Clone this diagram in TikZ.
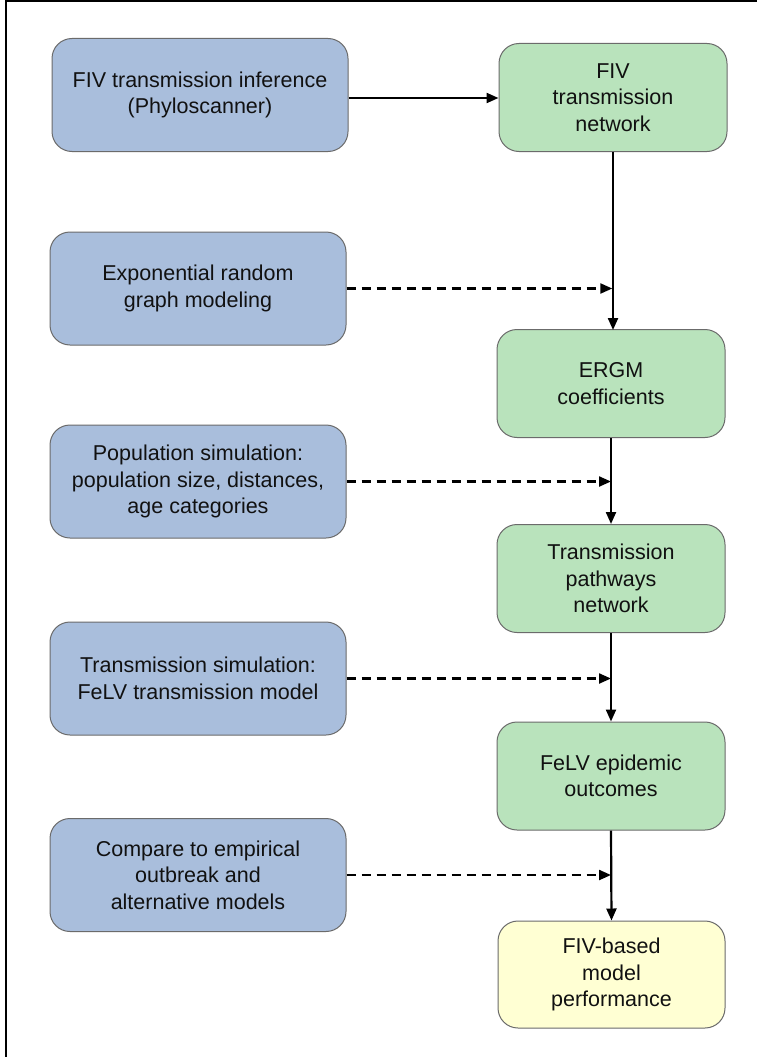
\documentclass[tikz,border=0pt]{standalone}
\usepackage{fontspec}
\setmainfont{Liberation Sans}
\usetikzlibrary{arrows.meta}
\definecolor{bluefill}{HTML}{A9BEDC}
\definecolor{greenfill}{HTML}{B9E3BC}
\definecolor{yellowfill}{HTML}{FFFFD3}
\definecolor{boxedge}{HTML}{6B6B6B}
\definecolor{txt}{HTML}{111111}
\tikzset{
  box/.style={draw=boxedge, line width=1pt, rounded corners=20pt, align=center,
    text=txt, font=\fontsize{21.5}{26.5}\selectfont, inner sep=0pt},
  leftbox/.style={box, fill=bluefill, minimum width=296pt, minimum height=113pt},
  rightbox/.style={box, fill=greenfill, minimum width=228pt, minimum height=108pt},
  yellowbox/.style={box, fill=yellowfill, minimum width=227pt, minimum height=107pt},
  solidarrow/.style={line width=2.2pt, -{Triangle[length=12pt,width=10pt]}},
  dasharrow/.style={line width=2.2pt, dash pattern=on 9pt off 6pt, -{Triangle[length=12pt,width=10pt]}},
}
\begin{document}
\begin{tikzpicture}[x=1pt,y=-1pt]
\useasboundingbox (0,0) rectangle (757,1057);
\fill[white] (0,0) rectangle (757,1057);
\draw[line width=2.5pt] (6,1057) -- (6,1.2) -- (757,1.2);

\node[leftbox] (l1) at (200,95) {FIV transmission inference\\(Phyloscanner)};
\node[leftbox] (l2) at (198,288.5) {Exponential random\\graph modeling};
\node[leftbox] (l3) at (198,481.5) {Population simulation:\\population size, distances,\\age categories};
\node[leftbox] (l4) at (198,678.5) {Transmission simulation:\\FeLV transmission model};
\node[leftbox] (l5) at (198,875) {Compare to empirical\\outbreak and\\alternative models};

\node[rightbox] (r1) at (613,97.5) {FIV\\transmission\\network};
\node[rightbox] (r2) at (611,383.5) {ERGM\\coefficients};
\node[rightbox] (r3) at (611,578.5) {Transmission\\pathways\\network};
\node[rightbox] (r4) at (611,776) {FeLV epidemic\\outcomes};
\node[yellowbox] (r5) at (611.5,974.5) {FIV-based\\model\\performance};

\draw[solidarrow] (l1.east |- 0,98) -- (r1.west |- 0,98);

\draw[solidarrow] (613,151.5) -- (613,330);
\draw[solidarrow] (r2.south) -- (r3.north);
\draw[solidarrow] (r3.south) -- (r4.north);
\draw[solidarrow] (r4.south) -- (r5.north);

\coordinate (c2) at (612.3,288.5);
\coordinate (c3) at (611,481.5);
\coordinate (c4) at (611,678.5);
\coordinate (c5) at (611,875);
\draw[dasharrow] (l2.east) -- (c2);
\draw[dasharrow] (l3.east) -- (c3);
\draw[dasharrow] (l4.east) -- (c4);
\draw[dasharrow] (l5.east) -- (c5);
\end{tikzpicture}
\end{document}
